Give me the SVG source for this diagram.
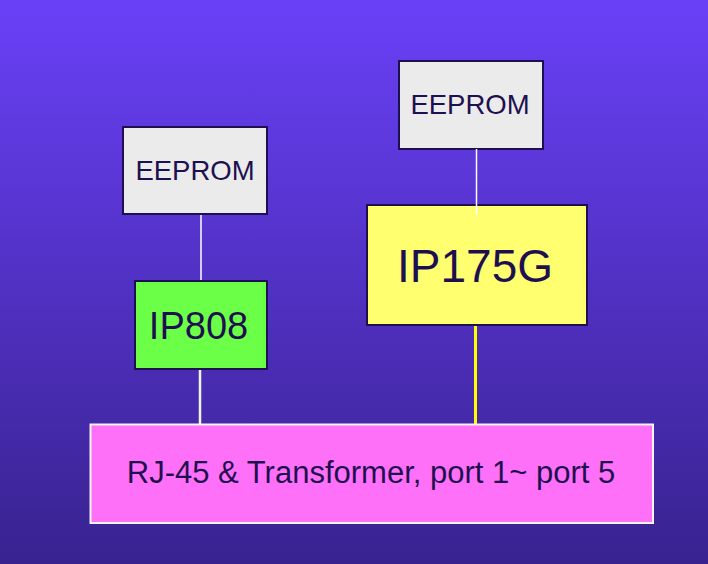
<svg xmlns="http://www.w3.org/2000/svg" width="708" height="564" viewBox="0 0 708 564">
<defs>
<linearGradient id="bg" x1="0" y1="0" x2="0" y2="1">
<stop offset="0" stop-color="#6a40f7"/>
<stop offset="1" stop-color="#38228f"/>
</linearGradient>
</defs>
<style>
.box{stroke:#1e1050;stroke-width:2}
.lbl{font-family:"Liberation Sans",Arial,sans-serif;fill:#1e1050;text-anchor:middle}
</style>
<rect x="0" y="0" width="708" height="564" fill="url(#bg)"/>
<g id="connectors">
<line x1="201" y1="214" x2="201" y2="281" stroke="#ffffff" stroke-width="1.5"/>
<line x1="200" y1="369" x2="200" y2="425" stroke="#f2f2f2" stroke-width="2.5"/>
<line x1="475.5" y1="325" x2="475.5" y2="425" stroke="#ffff00" stroke-width="3"/>
</g>
<g id="eeprom1">
<rect class="box" x="123" y="127" width="144" height="87" fill="#ebebeb"/>
<text class="lbl" x="195" y="180" font-size="27.5">EEPROM</text>
</g>
<g id="ip808">
<rect class="box" x="135" y="281" width="132" height="88" fill="#6cff48"/>
<text class="lbl" x="198.5" y="339" font-size="38">IP808</text>
</g>
<g id="eeprom2">
<rect class="box" x="399" y="61" width="144" height="88" fill="#ebebeb"/>
<text class="lbl" x="470" y="114" font-size="27.5">EEPROM</text>
</g>
<g id="ip175g">
<rect class="box" x="367" y="205" width="220" height="120" fill="#ffff70"/>
<text class="lbl" x="475" y="282" font-size="46">IP175G</text>
</g>
<line x1="476.5" y1="149" x2="476.5" y2="215" stroke="#ffffff" stroke-width="1.5"/>
<g id="rj45">
<rect x="90.5" y="424.5" width="562.5" height="98.5" fill="#ff70f8" stroke="#f4f4f4" stroke-width="2"/>
<text class="lbl" x="371" y="483" font-size="31">RJ-45 &amp; Transformer, port 1~ port 5</text>
</g>
</svg>
